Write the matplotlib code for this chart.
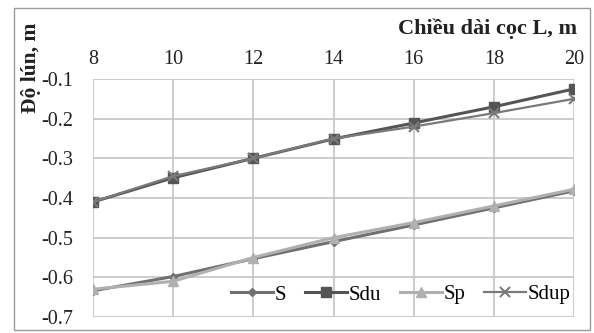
import matplotlib
matplotlib.use('Agg')
import matplotlib.pyplot as plt

plt.rcParams['font.family'] = ['Liberation Serif', 'DejaVu Serif']

L = [8, 10, 12, 14, 16, 18, 20]
S = [-0.634, -0.598, -0.553, -0.510, -0.468, -0.425, -0.382]
Sdu = [-0.410, -0.349, -0.300, -0.251, -0.211, -0.170, -0.125]
Sp = [-0.630, -0.610, -0.550, -0.500, -0.462, -0.420, -0.378]
Sdup = [-0.410, -0.345, -0.300, -0.250, -0.220, -0.186, -0.150]

fig = plt.figure(figsize=(5.94, 3.33), dpi=100)
# outer frame
fig.patches.append(plt.Rectangle((14 / 594, 3 / 333), 576 / 594, 322 / 333, transform=fig.transFigure,
                                 fill=False, edgecolor='#9a9a9a', linewidth=1.0))
ax = fig.add_axes([93 / 594, 1 - 317 / 333, 481 / 594, 238 / 333])

ax.plot(L, S, color='#707070', marker='D', markersize=4.5, linewidth=2.2, label='S')
ax.plot(L, Sdu, color='#555555', marker='s', markersize=7.5, linewidth=2.2, label='Sdu')
ax.plot(L, Sp, color='#b0b0b0', marker='^', markersize=6.5, linewidth=2.2, label='Sp')
ax.plot(L, Sdup, color='#7a7a7a', marker='x', markersize=7, markeredgewidth=1.5, linewidth=1.6, label='Sdup')

ax.set_xlim(8, 20)
ax.set_ylim(-0.7, -0.1)
ax.set_xticks(L)
ax.set_yticks([-0.1, -0.2, -0.3, -0.4, -0.5, -0.6, -0.7])
ax.set_yticklabels(['-0.1', '-0.2', '-0.3', '-0.4', '-0.5', '-0.6', '-0.7'])
ax.xaxis.tick_top()
ax.tick_params(axis='x', length=0, labelsize=14.5, pad=7, colors='#222222')
ax.tick_params(axis='y', length=0, labelsize=14.5, pad=14, colors='#222222')
ax.grid(True, color='#c4c4c4', linewidth=1.2)
for s in ax.spines.values():
    s.set_visible(False)

fig.text(577 / 594, 1 - 29 / 333, 'Chiều dài cọc L, m', ha='right', va='center',
         fontsize=16, fontweight='bold', color='#222222')
fig.text(31 / 594, 1 - 68 / 333, 'Độ lún, m', ha='center', va='center', rotation=90,
         fontsize=15.5, fontweight='bold', color='#222222')

ax.legend(loc='lower center', bbox_to_anchor=(0.64, 0.0), ncol=4, frameon=False,
          fontsize=15, handlelength=2.0, handletextpad=0.1, columnspacing=0.9,
          borderaxespad=0.2)

fig.savefig('out.png', dpi=100)
